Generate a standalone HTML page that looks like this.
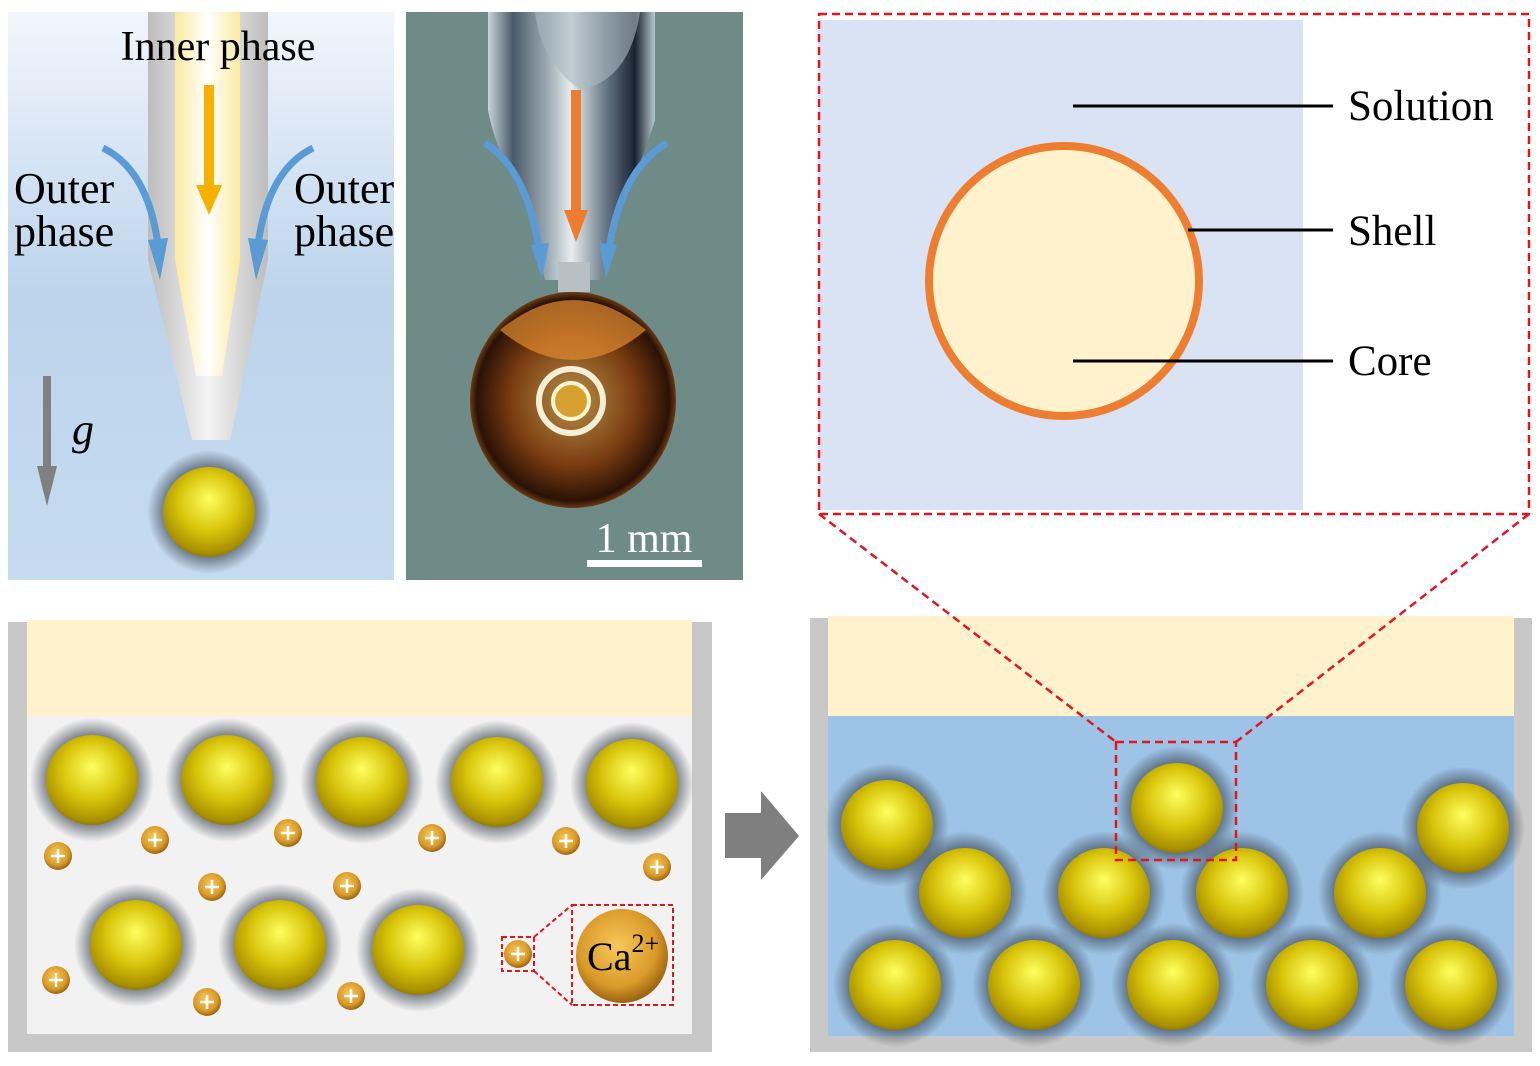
<!DOCTYPE html>
<html><head><meta charset="utf-8"><style>
html,body{margin:0;padding:0;background:#fff;}
svg{display:block;}
text{font-family:"Liberation Serif",serif;fill:#000;}
</style></head><body>
<svg width="1540" height="1066" viewBox="0 0 1540 1066" xmlns="http://www.w3.org/2000/svg">
<defs>
<linearGradient id="bg1" x1="0" y1="0" x2="0" y2="1"><stop offset="0" stop-color="#f2f6fc"/><stop offset="0.5" stop-color="#bcd4ec"/><stop offset="1" stop-color="#c6dbef"/></linearGradient>
<linearGradient id="tube" x1="0" y1="0" x2="1" y2="0"><stop offset="0" stop-color="#bdbdbd"/><stop offset="0.5" stop-color="#f4f4f4"/><stop offset="1" stop-color="#bdbdbd"/></linearGradient>
<linearGradient id="inner" x1="0" y1="0" x2="1" y2="0"><stop offset="0" stop-color="#fbeaa0"/><stop offset="0.5" stop-color="#ffffff"/><stop offset="1" stop-color="#fbeaa0"/></linearGradient>
<linearGradient id="glass" x1="0" y1="0" x2="1" y2="0"><stop offset="0" stop-color="#c8d4da"/><stop offset="0.15" stop-color="#4a5a68"/><stop offset="0.35" stop-color="#9aa8b0"/><stop offset="0.5" stop-color="#e8eef0"/><stop offset="0.7" stop-color="#6a7a88"/><stop offset="0.88" stop-color="#1a2230"/><stop offset="1" stop-color="#b8c8d0"/></linearGradient>
<radialGradient id="ball" cx="0.5" cy="0.42" r="0.6" fx="0.5" fy="0.35"><stop offset="0" stop-color="#ffff60"/><stop offset="0.55" stop-color="#d8c40a"/><stop offset="0.9" stop-color="#a89000"/><stop offset="1" stop-color="#8a7600"/></radialGradient>
<radialGradient id="halo"><stop offset="0.6" stop-color="#3a4450" stop-opacity="0.9"/><stop offset="1" stop-color="#3a4450" stop-opacity="0"/></radialGradient>
<radialGradient id="ion" cx="0.45" cy="0.4" r="0.6"><stop offset="0" stop-color="#f8c85a"/><stop offset="0.7" stop-color="#d99a2a"/><stop offset="1" stop-color="#9a6410"/></radialGradient>
<radialGradient id="drop" cx="0.5" cy="0.5" r="0.55"><stop offset="0" stop-color="#b8904a"/><stop offset="0.55" stop-color="#7a3c10"/><stop offset="0.85" stop-color="#2a1206"/><stop offset="1" stop-color="#d07828"/></radialGradient>
<g id="B"><circle r="62" fill="url(#halo)"/><ellipse rx="46" ry="45" fill="url(#ball)"/></g>
<g id="I"><ellipse rx="14" ry="14" fill="url(#ion)"/><path d="M-7 0H7M0 -7V7" stroke="#fff" stroke-width="2.5"/></g>
</defs>

<!-- top-left schematic -->
<rect x="8" y="12" width="386" height="568" fill="url(#bg1)"/>
<path d="M148 12H268V260L230 440H192L148 260Z" fill="url(#tube)"/>
<path d="M175 12H240V260L222 376H196L175 260Z" fill="url(#inner)"/>
<path d="M204 85h10v100h8l-13 30l-13-30h8z" fill="#f5b000"/>
<path d="M103 148Q148 170 158 245" stroke="#5b9bd5" stroke-width="7" fill="none"/>
<path d="M148 240l12 40l8-42z" fill="#5b9bd5"/>
<path d="M313 148Q268 170 258 245" stroke="#5b9bd5" stroke-width="7" fill="none"/>
<path d="M268 240l-12 40l-8-42z" fill="#5b9bd5"/>
<path d="M43 376h8v90h6l-10 40l-10-40h6z" fill="#808080"/>
<text x="218" y="60" font-size="42" text-anchor="middle">Inner phase</text>
<text x="14" y="203" font-size="44">Outer</text><text x="14" y="246" font-size="44">phase</text>
<text x="294" y="203" font-size="44">Outer</text><text x="294" y="246" font-size="44">phase</text>
<text x="72" y="444" font-size="44" font-style="italic">g</text>
<use href="#B" x="209" y="512"/>

<!-- photo -->
<rect x="406" y="12" width="337" height="568" fill="#6f8b87"/>
<path d="M488 12H655V120Q640 170 620 200L600 280H545L525 200Q495 150 488 110Z" fill="url(#glass)"/>
<path d="M535 12Q540 60 580 90Q630 80 640 12Z" fill="#a8b8c0" opacity="0.6"/>
<rect x="558" y="262" width="32" height="30" fill="#b8c0c4"/>
<ellipse cx="573" cy="400" rx="103" ry="108" fill="url(#drop)"/>
<path d="M500 330Q573 270 646 330Q610 360 573 360Q536 360 500 330Z" fill="#e08a30" opacity="0.7"/>
<circle cx="571" cy="401" r="32" fill="none" stroke="#f4f0d8" stroke-width="6"/>
<circle cx="571" cy="401" r="18" fill="#d8a030" stroke="#fff8d0" stroke-width="4"/>
<path d="M571 90h10v120h7l-12 32l-12-32h7z" fill="#ed7d31"/>
<path d="M485 143Q528 170 540 255" stroke="#5b9bd5" stroke-width="7" fill="none"/>
<path d="M531 245l11 33l7-35z" fill="#5b9bd5"/>
<path d="M667 143Q620 170 608 255" stroke="#5b9bd5" stroke-width="7" fill="none"/>
<path d="M617 245l-11 33l-7-35z" fill="#5b9bd5"/>
<text x="644" y="552" font-size="42" text-anchor="middle" style="fill:#fff">1 mm</text>
<rect x="587" y="560" width="115" height="7" fill="#fff"/>

<!-- zoom box -->
<rect x="818" y="20" width="485" height="490" fill="#dae3f3"/>
<circle cx="1064" cy="281" r="135" fill="#fff2cc" stroke="#ed7d31" stroke-width="8"/>
<g stroke="#000" stroke-width="3"><line x1="1073" y1="106" x2="1333" y2="106"/><line x1="1188" y1="230" x2="1333" y2="230"/><line x1="1073" y1="361" x2="1333" y2="361"/></g>
<text x="1348" y="120" font-size="43">Solution</text>
<text x="1348" y="245" font-size="43">Shell</text>
<text x="1348" y="375" font-size="43">Core</text>
<rect x="819" y="14" width="710" height="500" fill="none" stroke="#e0161e" stroke-width="2.5" stroke-dasharray="8,5"/>

<!-- bottom-left container -->
<rect x="8" y="622" width="704" height="430" fill="#c8c8c8"/>
<rect x="27" y="620" width="665" height="414" fill="#f2f2f2"/>
<rect x="27" y="620" width="665" height="96" fill="#fff2cc"/>
<use href="#B" x="92" y="780"/><use href="#B" x="227" y="780"/><use href="#B" x="362" y="782"/><use href="#B" x="497" y="782"/><use href="#B" x="632" y="784"/>
<use href="#B" x="136" y="945"/><use href="#B" x="280" y="945"/><use href="#B" x="418" y="950"/>
<use href="#I" x="58" y="856"/><use href="#I" x="155" y="840"/><use href="#I" x="288" y="833"/><use href="#I" x="432" y="838"/><use href="#I" x="566" y="841"/><use href="#I" x="657" y="867"/>
<use href="#I" x="212" y="887"/><use href="#I" x="347" y="886"/><use href="#I" x="56" y="980"/><use href="#I" x="207" y="1002"/><use href="#I" x="351" y="996"/><use href="#I" x="518" y="954"/>
<ellipse cx="622" cy="956" rx="46" ry="47" fill="url(#ion)"/>
<text x="587" y="970" font-size="40">Ca<tspan font-size="26" dy="-18">2+</tspan></text>
<g fill="none" stroke="#e0161e" stroke-width="2" stroke-dasharray="5,3">
<rect x="502" y="937" width="32" height="34"/><rect x="572" y="905" width="101" height="100"/>
<path d="M534 937L572 905M534 971L572 1005"/></g>

<!-- arrow -->
<path d="M725 813H761V791L799 836L761 880V858H725Z" fill="#7f7f7f"/>

<!-- bottom-right container -->
<rect x="810" y="618" width="722" height="434" fill="#c8c8c8"/>
<rect x="828" y="616" width="686" height="420" fill="#9dc3e6"/>
<rect x="828" y="616" width="686" height="100" fill="#fff2cc"/>
<use href="#B" x="887" y="825"/><use href="#B" x="1177" y="808"/><use href="#B" x="1463" y="828"/>
<use href="#B" x="965" y="893"/><use href="#B" x="1104" y="893"/><use href="#B" x="1242" y="893"/><use href="#B" x="1380" y="893"/>
<use href="#B" x="895" y="985"/><use href="#B" x="1034" y="985"/><use href="#B" x="1173" y="985"/><use href="#B" x="1312" y="985"/><use href="#B" x="1451" y="985"/>
<g fill="none" stroke="#e0161e" stroke-width="2.5" stroke-dasharray="8,5">
<rect x="1116" y="742" width="120" height="118"/>
<path d="M819 514L1116 742M1529 514L1236 742"/></g>
</svg>
</body></html>
